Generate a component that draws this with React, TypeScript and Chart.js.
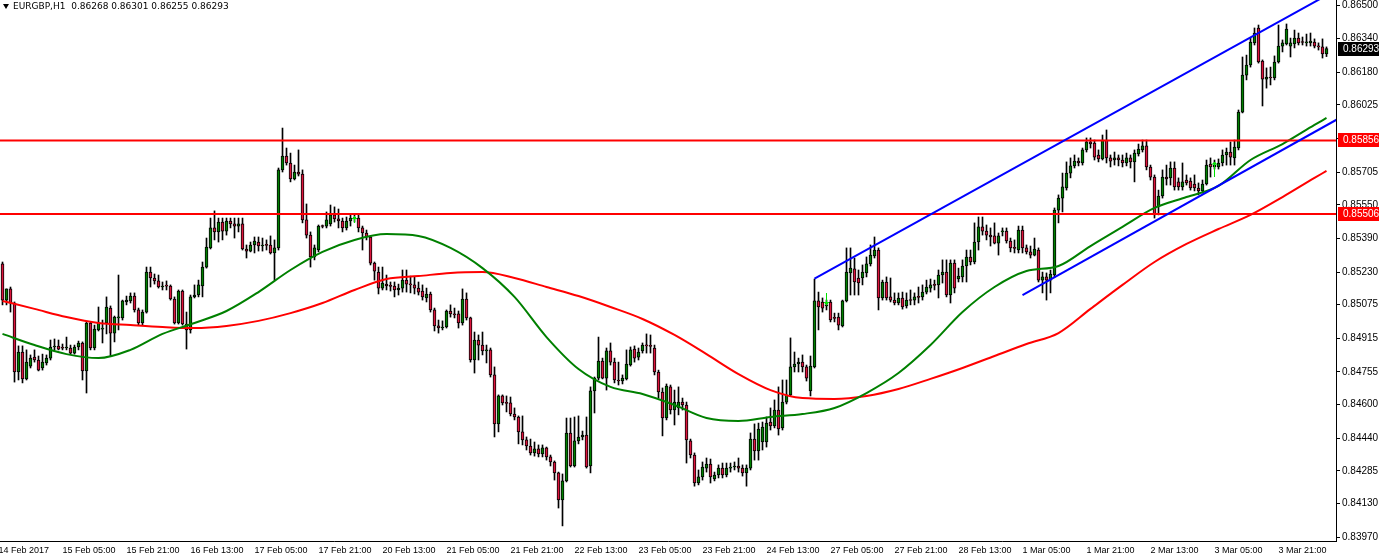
import React, { useEffect, useRef } from 'react';
import { Chart, registerables } from 'chart.js';

Chart.register(...registerables);

const TITLE_TEXT = 'EURGBP,H1  0.86268 0.86301 0.86255 0.86293';

// one row per H1 bar: [open, high, low, close]
const CANDLES: number[][] = [
[0.85269,0.85278,0.85074,0.85097],[0.85097,0.85150,0.85074,0.85150],[0.85150,0.85159,0.85040,0.85083],[0.85083,0.85088,0.84707,0.84755],
[0.84755,0.84879,0.84717,0.84850],[0.84850,0.84879,0.84703,0.84722],[0.84722,0.84860,0.84717,0.84802],[0.84783,0.84836,0.84774,0.84821],
[0.84826,0.84860,0.84802,0.84812],[0.84812,0.84831,0.84760,0.84764],[0.84774,0.84840,0.84764,0.84802],[0.84798,0.84836,0.84788,0.84821],
[0.84821,0.84907,0.84812,0.84874],[0.84874,0.84912,0.84860,0.84878],[0.84878,0.84907,0.84860,0.84864],[0.84869,0.84888,0.84860,0.84868],
[0.84869,0.84921,0.84860,0.84874],[0.84869,0.84883,0.84840,0.84845],[0.84845,0.84883,0.84840,0.84874],[0.84874,0.84902,0.84860,0.84893],
[0.84893,0.84898,0.84717,0.84760],[0.84760,0.84993,0.84655,0.84988],[0.84988,0.84993,0.84860,0.84869],[0.84869,0.84978,0.84860,0.84959],
[0.84955,0.85064,0.84950,0.84988],[0.84959,0.85002,0.84893,0.84964],[0.84988,0.85112,0.84936,0.85064],[0.85059,0.85069,0.84831,0.84940],
[0.84940,0.85021,0.84898,0.85016],[0.85012,0.85216,0.84955,0.85014],[0.85012,0.85097,0.85002,0.85093],[0.85088,0.85116,0.85074,0.85097],
[0.85093,0.85131,0.85083,0.85116],[0.85116,0.85131,0.85040,0.85050],[0.85050,0.85059,0.84978,0.84988],[0.84988,0.85050,0.84978,0.85040],
[0.85040,0.85254,0.85035,0.85230],[0.85230,0.85254,0.85159,0.85202],[0.85202,0.85221,0.85173,0.85188],[0.85188,0.85216,0.85154,0.85159],
[0.85159,0.85183,0.85145,0.85164],[0.85164,0.85188,0.85145,0.85163],[0.85164,0.85169,0.85097,0.85102],[0.85102,0.85112,0.84983,0.84988],
[0.84988,0.85145,0.84983,0.85140],[0.85140,0.85145,0.84978,0.84983],[0.84983,0.85040,0.84864,0.84955],[0.84955,0.85121,0.84940,0.85112],
[0.85112,0.85169,0.85107,0.85121],[0.85121,0.85192,0.85112,0.85169],[0.85164,0.85278,0.85112,0.85254],[0.85254,0.85392,0.85249,0.85349],
[0.85345,0.85487,0.85340,0.85440],[0.85440,0.85521,0.85383,0.85421],[0.85421,0.85487,0.85373,0.85468],[0.85468,0.85487,0.85383,0.85425],
[0.85425,0.85487,0.85406,0.85473],[0.85473,0.85487,0.85440,0.85459],[0.85459,0.85487,0.85392,0.85449],[0.85449,0.85487,0.85421,0.85459],
[0.85459,0.85487,0.85335,0.85340],[0.85340,0.85359,0.85297,0.85330],[0.85330,0.85373,0.85326,0.85359],[0.85359,0.85397,0.85321,0.85378],
[0.85373,0.85397,0.85330,0.85354],[0.85354,0.85392,0.85330,0.85359],[0.85359,0.85383,0.85335,0.85357],[0.85359,0.85402,0.85316,0.85321],
[0.85321,0.85383,0.85192,0.85345],[0.85345,0.85725,0.85335,0.85716],[0.85716,0.85915,0.85706,0.85782],[0.85782,0.85820,0.85739,0.85749],
[0.85749,0.85796,0.85659,0.85673],[0.85673,0.85739,0.85668,0.85706],[0.85706,0.85811,0.85687,0.85696],[0.85696,0.85716,0.85464,0.85478],
[0.85478,0.85554,0.85392,0.85406],[0.85406,0.85421,0.85254,0.85302],[0.85302,0.85359,0.85288,0.85345],[0.85335,0.85454,0.85326,0.85449],
[0.85449,0.85454,0.85440,0.85447],[0.85449,0.85516,0.85440,0.85478],[0.85459,0.85549,0.85449,0.85502],[0.85502,0.85540,0.85468,0.85483],
[0.85483,0.85530,0.85440,0.85473],[0.85473,0.85487,0.85421,0.85440],[0.85440,0.85492,0.85430,0.85473],[0.85473,0.85502,0.85449,0.85487],
[0.85487,0.85502,0.85468,0.85485],[0.85487,0.85506,0.85421,0.85440],[0.85440,0.85449,0.85335,0.85416],[0.85416,0.85430,0.85383,0.85397],
[0.85397,0.85402,0.85264,0.85273],[0.85273,0.85278,0.85192,0.85235],[0.85230,0.85254,0.85126,0.85154],[0.85154,0.85254,0.85145,0.85178],
[0.85173,0.85216,0.85145,0.85164],[0.85164,0.85183,0.85140,0.85162],[0.85164,0.85183,0.85112,0.85145],[0.85145,0.85173,0.85121,0.85154],
[0.85154,0.85240,0.85135,0.85192],[0.85192,0.85240,0.85135,0.85173],[0.85173,0.85211,0.85131,0.85169],[0.85169,0.85207,0.85126,0.85154],
[0.85154,0.85183,0.85121,0.85135],[0.85140,0.85169,0.85097,0.85112],[0.85107,0.85154,0.85088,0.85126],[0.85126,0.85135,0.85040,0.85050],
[0.85050,0.85059,0.84950,0.84974],[0.84974,0.85002,0.84940,0.84964],[0.84964,0.84998,0.84955,0.84969],[0.84969,0.85050,0.84964,0.85045],
[0.85045,0.85074,0.85016,0.85031],[0.85031,0.85059,0.85012,0.85026],[0.85031,0.85045,0.84964,0.84988],[0.84988,0.85150,0.84978,0.85102],
[0.85102,0.85131,0.85002,0.85012],[0.85012,0.85016,0.84802,0.84812],[0.84812,0.84945,0.84750,0.84907],[0.84907,0.84931,0.84812,0.84883],
[0.84883,0.84945,0.84836,0.84855],[0.84855,0.84883,0.84798,0.84860],[0.84860,0.84869,0.84731,0.84741],[0.84741,0.84779,0.84446,0.84508],
[0.84508,0.84646,0.84470,0.84641],[0.84641,0.84646,0.84598,0.84608],[0.84608,0.84641,0.84565,0.84606],[0.84608,0.84636,0.84546,0.84555],
[0.84555,0.84584,0.84527,0.84541],[0.84541,0.84546,0.84413,0.84470],[0.84470,0.84546,0.84408,0.84432],[0.84432,0.84446,0.84384,0.84403],
[0.84403,0.84436,0.84360,0.84370],[0.84370,0.84422,0.84355,0.84389],[0.84389,0.84408,0.84351,0.84365],[0.84365,0.84408,0.84351,0.84394],
[0.84394,0.84398,0.84336,0.84351],[0.84351,0.84360,0.84308,0.84327],[0.84327,0.84332,0.84241,0.84275],[0.84275,0.84279,0.84108,0.84146],
[0.84146,0.84270,0.84023,0.84237],[0.84237,0.84536,0.84232,0.84465],[0.84465,0.84536,0.84303,0.84308],[0.84308,0.84541,0.84303,0.84427],
[0.84427,0.84546,0.84413,0.84446],[0.84446,0.84474,0.84432,0.84455],[0.84455,0.84541,0.84298,0.84303],[0.84308,0.84684,0.84275,0.84665],
[0.84665,0.84731,0.84560,0.84726],[0.84726,0.84921,0.84717,0.84807],[0.84807,0.84821,0.84722,0.84726],[0.84726,0.84869,0.84669,0.84855],
[0.84855,0.84893,0.84788,0.84802],[0.84802,0.84821,0.84703,0.84717],[0.84717,0.84802,0.84693,0.84712],[0.84712,0.84741,0.84698,0.84726],
[0.84722,0.84860,0.84717,0.84793],[0.84788,0.84874,0.84783,0.84860],[0.84864,0.84879,0.84802,0.84821],[0.84826,0.84869,0.84812,0.84850],
[0.84855,0.84893,0.84845,0.84883],[0.84883,0.84936,0.84845,0.84879],[0.84879,0.84931,0.84845,0.84877],[0.84869,0.84883,0.84741,0.84755],
[0.84755,0.84764,0.84631,0.84660],[0.84660,0.84679,0.84451,0.84536],[0.84536,0.84698,0.84527,0.84688],[0.84684,0.84693,0.84555,0.84574],
[0.84574,0.84669,0.84503,0.84612],[0.84584,0.84684,0.84551,0.84612],[0.84612,0.84631,0.84574,0.84598],[0.84598,0.84612,0.84322,0.84432],
[0.84427,0.84436,0.84346,0.84360],[0.84360,0.84370,0.84212,0.84227],[0.84227,0.84289,0.84218,0.84256],[0.84256,0.84327,0.84241,0.84303],
[0.84298,0.84346,0.84279,0.84317],[0.84317,0.84341,0.84227,0.84256],[0.84246,0.84279,0.84237,0.84265],[0.84265,0.84313,0.84251,0.84298],
[0.84298,0.84322,0.84251,0.84265],[0.84265,0.84322,0.84256,0.84298],[0.84298,0.84322,0.84279,0.84303],[0.84303,0.84327,0.84289,0.84308],
[0.84308,0.84346,0.84279,0.84298],[0.84298,0.84313,0.84260,0.84275],[0.84275,0.84313,0.84212,0.84298],[0.84298,0.84465,0.84289,0.84436],
[0.84436,0.84508,0.84336,0.84379],[0.84379,0.84512,0.84336,0.84484],[0.84422,0.84517,0.84384,0.84493],[0.84422,0.84541,0.84398,0.84512],
[0.84517,0.84584,0.84479,0.84498],[0.84498,0.84622,0.84489,0.84574],[0.84574,0.84684,0.84455,0.84484],[0.84489,0.84717,0.84479,0.84612],
[0.84612,0.84717,0.84603,0.84646],[0.84646,0.84917,0.84641,0.84779],[0.84779,0.84850,0.84755,0.84793],[0.84793,0.84821,0.84755,0.84802],
[0.84802,0.84836,0.84755,0.84779],[0.84779,0.84788,0.84712,0.84726],[0.84665,0.84831,0.84641,0.84783],[0.84779,0.85197,0.84774,0.85093],
[0.85093,0.85135,0.84955,0.85064],[0.85088,0.85107,0.85040,0.85059],[0.85069,0.85097,0.85050,0.85074],[0.85088,0.85097,0.84993,0.85002],
[0.85012,0.85035,0.84993,0.85010],[0.85016,0.85035,0.84955,0.84978],[0.84974,0.85097,0.84969,0.85093],[0.85093,0.85345,0.85088,0.85230],
[0.85226,0.85345,0.85121,0.85249],[0.85245,0.85297,0.85121,0.85183],[0.85202,0.85240,0.85121,0.85178],[0.85202,0.85264,0.85169,0.85230],
[0.85226,0.85302,0.85207,0.85269],[0.85269,0.85359,0.85259,0.85311],[0.85307,0.85397,0.85297,0.85335],[0.85335,0.85345,0.85050,0.85107],
[0.85107,0.85192,0.85097,0.85183],[0.85183,0.85207,0.85097,0.85107],[0.85112,0.85202,0.85088,0.85097],[0.85097,0.85131,0.85074,0.85083],
[0.85083,0.85131,0.85074,0.85107],[0.85107,0.85135,0.85054,0.85064],[0.85069,0.85131,0.85059,0.85097],[0.85097,0.85145,0.85074,0.85095],
[0.85097,0.85131,0.85074,0.85112],[0.85112,0.85159,0.85083,0.85110],[0.85112,0.85169,0.85097,0.85135],[0.85135,0.85192,0.85126,0.85159],
[0.85154,0.85197,0.85135,0.85169],[0.85169,0.85192,0.85145,0.85167],[0.85169,0.85240,0.85107,0.85216],[0.85216,0.85288,0.85178,0.85230],
[0.85230,0.85288,0.85112,0.85121],[0.85121,0.85288,0.85083,0.85273],[0.85273,0.85288,0.85131,0.85154],[0.85197,0.85249,0.85183,0.85211],
[0.85207,0.85288,0.85183,0.85259],[0.85259,0.85335,0.85183,0.85302],[0.85302,0.85335,0.85264,0.85278],[0.85278,0.85464,0.85269,0.85373],
[0.85373,0.85492,0.85335,0.85445],[0.85445,0.85492,0.85406,0.85425],[0.85425,0.85454,0.85383,0.85406],[0.85406,0.85440,0.85354,0.85397],
[0.85402,0.85464,0.85364,0.85368],[0.85368,0.85416,0.85311,0.85402],[0.85421,0.85440,0.85402,0.85425],[0.85425,0.85440,0.85368,0.85378],
[0.85378,0.85392,0.85326,0.85345],[0.85345,0.85383,0.85321,0.85343],[0.85335,0.85449,0.85321,0.85430],[0.85430,0.85449,0.85321,0.85345],
[0.85345,0.85359,0.85316,0.85326],[0.85326,0.85354,0.85297,0.85311],[0.85311,0.85392,0.85307,0.85340],[0.85335,0.85345,0.85183,0.85192],
[0.85192,0.85230,0.85131,0.85207],[0.85207,0.85226,0.85097,0.85192],[0.85192,0.85240,0.85131,0.85221],[0.85216,0.85535,0.85207,0.85525],
[0.85525,0.85597,0.85464,0.85582],[0.85582,0.85701,0.85516,0.85635],[0.85630,0.85754,0.85620,0.85701],[0.85701,0.85773,0.85678,0.85735],
[0.85735,0.85787,0.85725,0.85758],[0.85758,0.85773,0.85735,0.85749],[0.85749,0.85820,0.85739,0.85811],[0.85811,0.85868,0.85801,0.85849],
[0.85849,0.85868,0.85820,0.85839],[0.85844,0.85858,0.85763,0.85777],[0.85787,0.85811,0.85754,0.85768],[0.85768,0.85882,0.85763,0.85858],
[0.85858,0.85906,0.85749,0.85773],[0.85773,0.85787,0.85730,0.85758],[0.85763,0.85801,0.85739,0.85773],[0.85773,0.85787,0.85735,0.85763],
[0.85763,0.85787,0.85730,0.85749],[0.85749,0.85796,0.85735,0.85773],[0.85773,0.85787,0.85725,0.85754],[0.85754,0.85811,0.85659,0.85796],
[0.85792,0.85839,0.85782,0.85815],[0.85811,0.85858,0.85801,0.85830],[0.85830,0.85858,0.85716,0.85730],[0.85730,0.85739,0.85668,0.85682],
[0.85682,0.85692,0.85487,0.85502],[0.85540,0.85620,0.85502,0.85592],[0.85592,0.85716,0.85582,0.85682],[0.85682,0.85739,0.85644,0.85673],
[0.85678,0.85754,0.85644,0.85725],[0.85725,0.85754,0.85620,0.85635],[0.85659,0.85678,0.85620,0.85635],[0.85635,0.85749,0.85620,0.85659],
[0.85668,0.85692,0.85644,0.85654],[0.85663,0.85678,0.85620,0.85630],[0.85649,0.85692,0.85616,0.85630],[0.85630,0.85654,0.85597,0.85616],
[0.85616,0.85668,0.85606,0.85649],[0.85649,0.85763,0.85644,0.85739],[0.85744,0.85773,0.85682,0.85730],[0.85730,0.85763,0.85720,0.85739],
[0.85730,0.85768,0.85720,0.85749],[0.85749,0.85811,0.85735,0.85787],[0.85787,0.85820,0.85739,0.85801],[0.85801,0.85849,0.85739,0.85777],
[0.85773,0.85858,0.85739,0.85825],[0.85820,0.86001,0.85811,0.85991],[0.85991,0.86253,0.85987,0.86167],[0.86167,0.86262,0.86144,0.86215],
[0.86215,0.86343,0.86205,0.86324],[0.86320,0.86391,0.86310,0.86367],[0.86391,0.86405,0.86224,0.86229],[0.86234,0.86239,0.86020,0.86148],
[0.86148,0.86201,0.86105,0.86158],[0.86158,0.86205,0.86120,0.86153],[0.86153,0.86258,0.86144,0.86229],[0.86229,0.86405,0.86224,0.86305],
[0.86305,0.86334,0.86277,0.86320],[0.86315,0.86410,0.86310,0.86386],[0.86305,0.86343,0.86253,0.86320],[0.86315,0.86381,0.86296,0.86343],
[0.86343,0.86367,0.86310,0.86320],[0.86324,0.86348,0.86310,0.86322],[0.86320,0.86362,0.86305,0.86324],[0.86320,0.86367,0.86305,0.86329],
[0.86324,0.86339,0.86296,0.86305],[0.86305,0.86320,0.86286,0.86301],[0.86301,0.86339,0.86248,0.86267],[0.86268,0.86301,0.86255,0.86293],
];

// moving averages, read at every 8th bar
const MA_BARS = [0,8,16,24,32,40,48,56,64,72,80,88,96,104,112,120,128,136,144,152,160,168,176,184,192,200,208,216,224,232,240,248,256,264,272,280,288,296,304,312,320,328,331];
const MA_GREEN = [0.84936,0.84883,0.84840,0.84821,0.84860,0.84936,0.84988,0.85045,0.85135,0.85240,0.85326,0.85383,0.85411,0.85402,0.85345,0.85249,0.85112,0.84921,0.84769,0.84684,0.84650,0.84598,0.84536,0.84522,0.84541,0.84555,0.84584,0.84655,0.84750,0.84883,0.85040,0.85159,0.85235,0.85259,0.85354,0.85445,0.85535,0.85587,0.85640,0.85763,0.85839,0.85930,0.85963];
const MA_RED = [0.85093,0.85055,0.85016,0.84988,0.84978,0.84969,0.84964,0.84974,0.84998,0.85035,0.85083,0.85145,0.85197,0.85211,0.85226,0.85230,0.85202,0.85159,0.85116,0.85064,0.85007,0.84931,0.84840,0.84745,0.84669,0.84631,0.84627,0.84641,0.84674,0.84722,0.84774,0.84831,0.84888,0.84940,0.85055,0.85169,0.85278,0.85364,0.85435,0.85502,0.85587,0.85678,0.85711];

const RESISTANCE = 0.85856;
const SUPPORT = 0.85506;
const LAST_PRICE = 0.86293;

const UPPER_TREND_BARS = [203, 333];
const UPPER_TREND_PRICES = [0.85199, 0.86567];
const LOWER_TREND_BARS = [255, 334];
const LOWER_TREND_PRICES = [0.85121, 0.85960];

// trade arrows: bar, price at arrow centre, direction, length in px
const ARROW_BARS = [88, 206, 303];
const ARROW_PRICES = [0.85480, 0.85102, 0.85720];
const ARROW_UP = [true, false, true];
const ARROW_LEN = [7, 12, 15];

const Y_TICKS = [0.865,0.8634,0.8618,0.86025,0.85865,0.85705,0.8555,0.8539,0.8523,0.85075,0.84915,0.84755,0.846,0.8444,0.84285,0.8413,0.8397];
const Y_TICK_LABELS = ['0.86500','0.86340','0.86180','0.86025','0.85865','0.85705','0.85550','0.85390','0.85230','0.85075','0.84915','0.84755','0.84600','0.84440','0.84285','0.84130','0.83970'];

const X_LABELS = ['14 Feb 2017','15 Feb 05:00','15 Feb 21:00','16 Feb 13:00','17 Feb 05:00','17 Feb 21:00','20 Feb 13:00','21 Feb 05:00','21 Feb 21:00','22 Feb 13:00','23 Feb 05:00','23 Feb 21:00','24 Feb 13:00','27 Feb 05:00','27 Feb 21:00','28 Feb 13:00','1 Mar 05:00','1 Mar 21:00','2 Mar 13:00','3 Mar 05:00','3 Mar 21:00'];
const X_LABEL_FIRST_BAR = -1;
const X_LABEL_STEP = 16;

const BULL = '#008000';
const BEAR = '#dc143c';
const ARROW_COLOR = '#00e000';
const FONT = '"Liberation Sans", Arial, sans-serif';
const TITLE_FONT = '"DejaVu Sans", Verdana, sans-serif';

const PAD_LEFT = 40;
const PAD_TOP = 10;
const W = 1379;
const H = 558;

function makeArrow(up: boolean, len: number): HTMLCanvasElement {
  const c = document.createElement('canvas');
  c.width = 7;
  c.height = len;
  const g = c.getContext('2d')!;
  g.fillStyle = ARROW_COLOR;
  if (up) {
    g.fillRect(3, 2, 1, len - 2);
    g.fillRect(2, 1, 3, 1);
    g.fillRect(1, 2, 5, 1);
    g.fillRect(3, 0, 1, 1);
  } else {
    g.fillRect(3, 0, 1, len - 2);
    g.fillRect(2, len - 2, 3, 1);
    g.fillRect(1, len - 3, 5, 1);
    g.fillRect(3, len - 1, 1, 1);
  }
  return c;
}

const priceBoxes = {
  id: 'priceBoxes',
  afterDraw(chart: any) {
    const { ctx, chartArea, scales } = chart;
    const y = scales.y;
    const items = [
      { v: RESISTANCE, bg: '#ff0000' },
      { v: SUPPORT, bg: '#ff0000' },
      { v: LAST_PRICE, bg: '#000000' },
    ];
    ctx.save();
    ctx.font = `10px ${FONT}`;
    ctx.textBaseline = 'middle';
    ctx.textAlign = 'left';
    for (const it of items) {
      const py = Math.round(y.getPixelForValue(it.v));
      ctx.fillStyle = it.bg;
      ctx.fillRect(chartArea.right + 2, py - 7, chart.width - chartArea.right - 2, 14);
      ctx.fillStyle = '#ffffff';
      ctx.fillText(it.v.toFixed(5), chartArea.right + 7, py + 0.5);
    }
    ctx.restore();
  },
};

export default function App() {
  const ref = useRef<HTMLCanvasElement | null>(null);

  useEffect(() => {
    document.body.style.margin = '0';
    const canvas = ref.current;
    if (!canvas) return;
    const bars = CANDLES.map((_, i) => i);
    const arrowImages = ARROW_BARS.map((_, k) => makeArrow(ARROW_UP[k], ARROW_LEN[k]));
    const chart = new Chart(canvas, {
      type: 'bar',
      data: {
        datasets: [
          {
            type: 'line',
            data: ARROW_BARS.map((b, k) => ({ x: b, y: ARROW_PRICES[k] })),
            showLine: false, pointStyle: arrowImages as any, pointRadius: 4, order: -1,
          },
          {
            type: 'line',
            data: UPPER_TREND_BARS.map((b, k) => ({ x: b, y: UPPER_TREND_PRICES[k] })),
            borderColor: '#0000ff', borderWidth: 2, pointRadius: 0, order: 0,
          },
          {
            type: 'line',
            data: LOWER_TREND_BARS.map((b, k) => ({ x: b, y: LOWER_TREND_PRICES[k] })),
            borderColor: '#0000ff', borderWidth: 2, pointRadius: 0, order: 0,
          },
          {
            type: 'line',
            data: [{ x: -2, y: RESISTANCE }, { x: 336, y: RESISTANCE }],
            borderColor: '#ff0000', borderWidth: 2, pointRadius: 0, order: 1,
          },
          {
            type: 'line',
            data: [{ x: -2, y: SUPPORT }, { x: 336, y: SUPPORT }],
            borderColor: '#ff0000', borderWidth: 2, pointRadius: 0, order: 1,
          },
          {
            type: 'line',
            data: MA_BARS.map((b, k) => ({ x: b, y: MA_GREEN[k] })),
            borderColor: '#008000', borderWidth: 2, pointRadius: 0,
            cubicInterpolationMode: 'monotone', order: 2,
          },
          {
            type: 'line',
            data: MA_BARS.map((b, k) => ({ x: b, y: MA_RED[k] })),
            borderColor: '#ff0000', borderWidth: 2, pointRadius: 0,
            cubicInterpolationMode: 'monotone', order: 3,
          },
          {
            type: 'bar',
            data: bars.map((i) => ({ x: i, y: [CANDLES[i][0], CANDLES[i][3]] })),
            backgroundColor: bars.map((i) => (CANDLES[i][3] >= CANDLES[i][0] ? BULL : BEAR)),
            borderColor: '#000000', borderWidth: 1, borderSkipped: false,
            barThickness: 3, grouped: false, minBarLength: 1, order: 4,
          },
          {
            type: 'bar',
            data: bars.map((i) => ({ x: i, y: [CANDLES[i][2], CANDLES[i][1]] })),
            backgroundColor: '#000000', barThickness: 1, grouped: false, order: 5,
          },
        ] as any,
      },
      options: {
        animation: false,
        responsive: false,
        devicePixelRatio: 1,
        layout: { padding: { left: PAD_LEFT, top: PAD_TOP, right: 0, bottom: 0 } },
        plugins: { legend: { display: false }, tooltip: { enabled: false }, title: { display: false } },
        scales: {
          x: {
            type: 'linear',
            min: -0.625,
            max: 333.375,
            offset: false,
            grid: { display: false, drawTicks: false, offset: false },
            border: { display: true, color: '#000000', width: 1 },
            afterBuildTicks: (s: any) => {
              s.ticks = X_LABELS.map((_, k) => ({ value: X_LABEL_FIRST_BAR + k * X_LABEL_STEP }));
            },
            afterFit: (s: any) => { s.height = 17; },
            ticks: {
              autoSkip: false, maxRotation: 0, minRotation: 0, align: 'start', padding: 4,
              color: '#000000', font: { family: FONT, size: 9 },
              callback: (_v: any, idx: number) => X_LABELS[idx],
            },
          },
          y: {
            type: 'linear',
            position: 'right',
            min: 0.839512,
            max: 0.86524,
            grid: { display: true, drawOnChartArea: false, drawTicks: true, tickLength: 4, color: '#000000' },
            border: { display: true, color: '#000000', width: 1 },
            afterBuildTicks: (s: any) => { s.ticks = Y_TICKS.map((v) => ({ value: v })); },
            afterFit: (s: any) => { s.width = 43; },
            ticks: {
              autoSkip: false, padding: 2, color: '#000000', font: { family: FONT, size: 10 },
              callback: (_v: any, idx: number) => Y_TICK_LABELS[idx],
            },
          },
        },
      } as any,
      plugins: [priceBoxes],
    });
    return () => chart.destroy();
  }, []);

  return (
    <div style={{ position: 'relative', width: W, height: H, overflow: 'hidden', background: '#ffffff' }}>
      <canvas
        ref={ref}
        width={W + PAD_LEFT}
        height={H + PAD_TOP}
        style={{ position: 'absolute', left: -PAD_LEFT, top: -PAD_TOP, width: W + PAD_LEFT, height: H + PAD_TOP }}
      />
      <div style={{ position: 'absolute', left: 3, top: 0, height: 12, display: 'flex', alignItems: 'center', font: `9px ${TITLE_FONT}`, color: '#000', whiteSpace: 'pre', lineHeight: '12px' }}>
        <span style={{ display: 'inline-block', width: 0, height: 0, borderLeft: '3.5px solid transparent', borderRight: '3.5px solid transparent', borderTop: '5px solid #000', marginRight: 4 }} />
        <span>{TITLE_TEXT}</span>
      </div>
    </div>
  );
}
